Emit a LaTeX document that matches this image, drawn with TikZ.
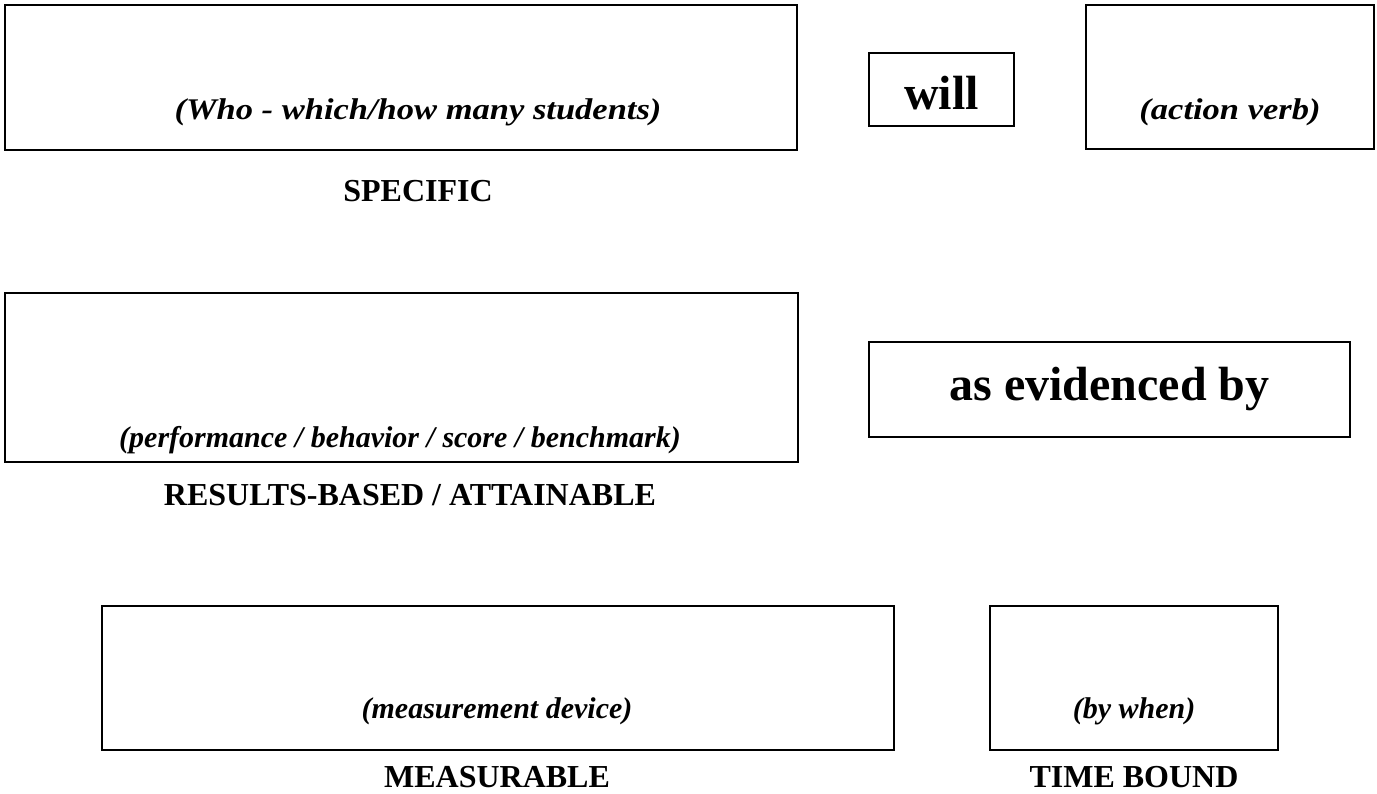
\documentclass[tikz,border=0pt]{standalone}
\usepackage{fontspec}
\setmainfont{Liberation Serif}
\newfontfamily\wideserif[FakeStretch=1.15]{Liberation Serif}
\usetikzlibrary{positioning}

\begin{document}
\begin{tikzpicture}[x=1pt,y=-1pt,
  slot/.style={draw,line width=2.4pt,inner sep=0pt},
  hint/.style={font=\fontsize{30}{36}\selectfont\bfseries\itshape,anchor=base},
  widehint/.style={hint,font=\fontsize{30}{36}\wideserif\bfseries\itshape},
  smart/.style={font=\fontsize{32}{38}\selectfont\bfseries,anchor=base,inner sep=0pt},
  joint/.style={font=\fontsize{48}{56}\selectfont\bfseries,anchor=base}]
\useasboundingbox (0,0) rectangle (1377,794);
% first line
\node[slot,minimum width=792,minimum height=145] (who) at (401,77.5) {};
\node[slot,minimum width=145,minimum height=73] (willbox) at (941.5,89.5) {};
\node[slot,minimum width=288,minimum height=144] (verb) at (1230,77) {};
\node[widehint] (whotext) at (418,120) {(Who - which/how many students)};
\node[joint] (will) at (941.5,110) {will};
\node[widehint] (verbtext) at (1230,120) {(action verb)};
\node[smart] (specific) at (418,202) {SPECIFIC};
% second line
\node[slot,minimum width=793,minimum height=169] (perf) at (401.5,377.5) {};
\node[slot,minimum width=481,minimum height=95] (evidbox) at (1109.5,389.5) {};
\node[hint] (perftext) at (400,447) {(performance / behavior / score / benchmark)};
\node[joint] (evid) at (1109.5,400) {as evidenced by};
\node[smart] (results) at (410,505) {RESULTS-BASED / ATTAINABLE};
% third line
\node[slot,minimum width=792,minimum height=144] (meas) at (498,678) {};
\node[slot,minimum width=288,minimum height=144] (when) at (1134,678) {};
\node[hint] (meastext) at (497,718) {(measurement device)};
\node[hint] (whentext) at (1134,718) {(by when)};
\node[smart] (measurable) at (497,787) {MEASURABLE};
\node[smart] (timebound) at (1134,787) {TIME BOUND};
\end{tikzpicture}
\end{document}
